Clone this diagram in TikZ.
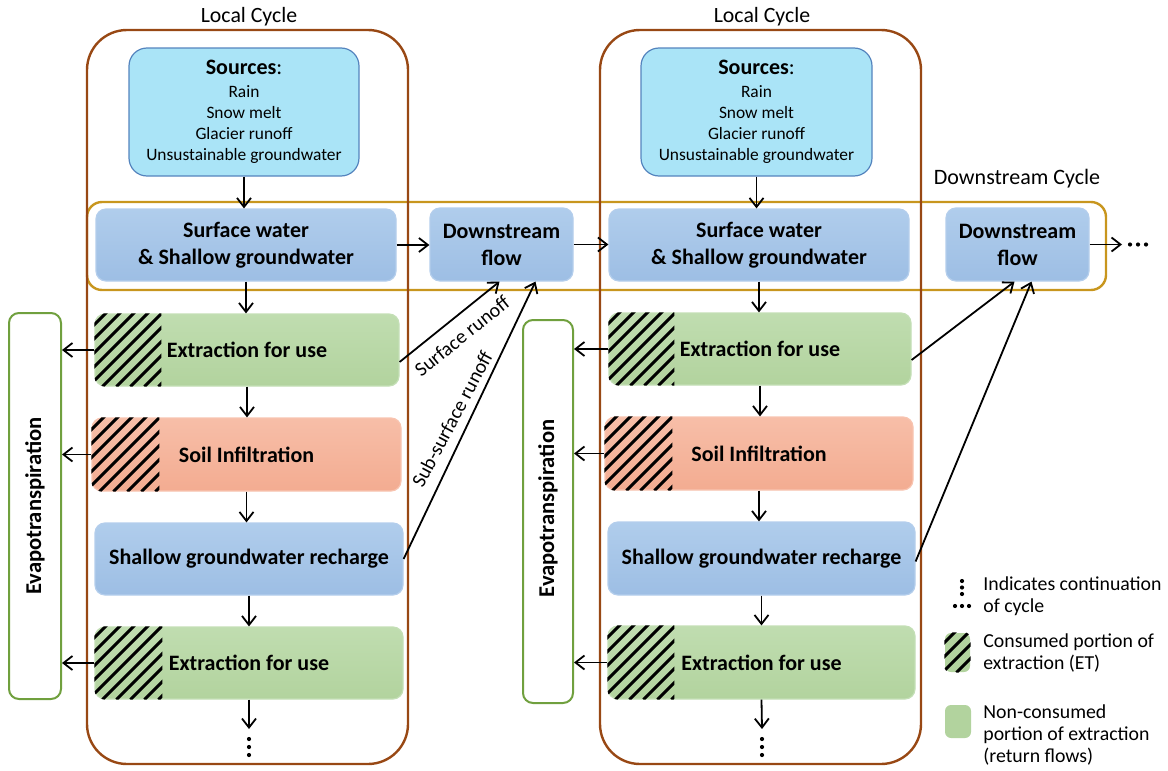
\documentclass[tikz,border=0pt]{standalone}
\usepackage{fontspec}
\setmainfont{Carlito}
\usetikzlibrary{arrows.meta,calc}
\definecolor{brownc}{RGB}{152,72,20}
\definecolor{goldc}{RGB}{200,150,30}
\definecolor{evapc}{RGB}{112,160,62}
\definecolor{srcF}{RGB}{170,228,247}
\definecolor{srcD}{RGB}{84,132,190}
\definecolor{blueT}{RGB}{176,205,236}
\definecolor{blueB}{RGB}{157,190,228}
\definecolor{blueD}{RGB}{180,206,236}
\definecolor{greenT}{RGB}{192,221,176}
\definecolor{greenB}{RGB}{178,211,158}
\definecolor{greenD}{RGB}{196,223,182}
\definecolor{soilT}{RGB}{247,190,168}
\definecolor{soilB}{RGB}{243,172,145}
\definecolor{soilD}{RGB}{248,196,176}
\newcommand\hatchit[2]{%
  \begin{scope}
    \clip[rounded corners=5pt] (#1.south west) rectangle (#1.north east);
    \clip (#1.south west) rectangle ([xshift=#2]#1.north west);
    \foreach \k in {0,...,14}{\draw[line width=1.5pt] ([xshift=\k*7pt-45pt]#1.south west) -- ++(120,-120);}
  \end{scope}}
\begin{document}
\begin{tikzpicture}[x=0.5pt,y=-0.5pt,
  box/.style={rounded corners=5pt, inner sep=0pt, align=center, line width=0.6pt,
    font=\bfseries\fontsize{11}{13.5}\selectfont},
  bluebox/.style={box, top color=blueT, bottom color=blueB, draw=blueD},
  greenbox/.style={box, top color=greenT, bottom color=greenB, draw=greenD},
  soilbox/.style={box, top color=soilT, bottom color=soilB, draw=soilD},
  srcbox/.style={rounded corners=9pt, inner sep=0pt, align=center, fill=srcF, draw=srcD,
    line width=0.6pt, font=\fontsize{8.7}{10.5}\selectfont},
  evapbox/.style={rounded corners=5pt, draw=evapc, fill=white, line width=1pt, inner sep=0pt},
  evaptxt/.style={rotate=90, font=\bfseries\fontsize{11.3}{13}\selectfont},
  arr/.style={line width=0.9pt, -{Straight Barb[length=4.5pt,width=7pt]}},
  lbl/.style={font=\fontsize{10.9}{12}\selectfont},
  runlbl/.style={font=\fontsize{10}{12}\selectfont, inner sep=1pt},
  legtxt/.style={font=\fontsize{9.9}{11}\selectfont, align=left, anchor=west, inner sep=0pt},
  dot/.style={circle, fill=black, inner sep=0pt, minimum size=2.1pt}
]
\useasboundingbox (0,0) rectangle (1168,771);

% cycle frames
\draw[goldc, line width=1.2pt, rounded corners=7.5pt] (87,202) rectangle (1106,290);
\draw[brownc, line width=1.2pt, rounded corners=20pt] (87,30) rectangle (408,764);
\draw[brownc, line width=1.2pt, rounded corners=20pt] (600,30) rectangle (921,764);
\node[lbl] (lc1) at (249,17) {Local Cycle};
\node[lbl] (lc2) at (762,17) {Local Cycle};
\node[font=\fontsize{11}{12}\selectfont] (dc) at (1017,179) {Downstream Cycle};

% evapotranspiration boxes
\node[evapbox, minimum width=26pt, minimum height=193pt] (ev1) at (35,506) {};
\node[evaptxt] (ev1t) at (ev1) {Evapotranspiration};
\node[evapbox, minimum width=25pt, minimum height=191.5pt] (ev2) at (548,511.5) {};
\node[evaptxt] (ev2t) at ([yshift=1.5pt]ev2.center) {Evapotranspiration};

% left column
\node[srcbox, minimum width=115pt, minimum height=64pt] (src1) at (244,112)
  {{\fontsize{11}{12}\selectfont\textbf{Sources}:}\\[1pt] Rain\\Snow melt\\Glacier runoff\\Unsustainable groundwater};
\node[bluebox, minimum width=150pt, minimum height=36pt] (sw1) at (246,245) {Surface water\\\& Shallow groundwater};
\node[greenbox, minimum width=152pt, minimum height=36pt] (ex1) at (247,350) {Extraction for use};
\node[soilbox, minimum width=154.5pt, minimum height=36.5pt] (so1) at (246.5,454.5) {Soil Infiltration};
\node[bluebox, minimum width=154pt, minimum height=36pt] (sh1) at (249,559) {Shallow groundwater recharge};
\node[greenbox, minimum width=154pt, minimum height=36pt] (ey1) at (249,663) {Extraction for use};
\hatchit{ex1}{33.5pt}
\hatchit{so1}{34pt}
\hatchit{ey1}{34pt}
\node[bluebox, minimum width=71.5pt, minimum height=36.5pt] (ds1) at (501.5,244.5) {Downstream\\flow};

% right column
\node[srcbox, minimum width=115.5pt, minimum height=64pt] (src2) at (756.5,112)
  {{\fontsize{11}{12}\selectfont\textbf{Sources}:}\\[1pt] Rain\\Snow melt\\Glacier runoff\\Unsustainable groundwater};
\node[bluebox, minimum width=150pt, minimum height=36pt] (sw2) at (759,245) {Surface water\\\& Shallow groundwater};
\node[greenbox, minimum width=151pt, minimum height=36pt] (ex2) at (760,349) {Extraction for use};
\node[soilbox, minimum width=154pt, minimum height=36.5pt] (so2) at (759,453.5) {Soil Infiltration};
\node[bluebox, minimum width=153.5pt, minimum height=36.5pt] (sh2) at (761.5,558.5) {Shallow groundwater recharge};
\node[greenbox, minimum width=153.5pt, minimum height=36.5pt] (ey2) at (761.5,662.5) {Extraction for use};
\hatchit{ex2}{33pt}
\hatchit{so2}{34pt}
\hatchit{ey2}{33.5pt}
\node[bluebox, minimum width=71.5pt, minimum height=36.5pt] (ds2) at (1017.5,244.5) {Downstream\\flow};

% vertical flows
\draw[arr] (src1.south) -- (src1.south |- sw1.north);
\draw[arr] (sw1.south) -- (sw1.south |- ex1.north);
\draw[arr] (ex1.south) -- (ex1.south |- so1.north);
\draw[arr] (so1.south) -- (so1.south |- sh1.north);
\draw[arr] (sh1.south) -- (sh1.south |- ey1.north);
\coordinate (end1) at (249,729);
\draw[arr] (ey1.south) -- (end1);
\draw[arr] (src2.south) -- (src2.south |- sw2.north);
\draw[arr] (sw2.south) -- (sw2.south |- ex2.north);
\draw[arr] (ex2.south) -- (ex2.south |- so2.north);
\draw[arr] (so2.south) -- (so2.south |- sh2.north);
\draw[arr] (sh2.south) -- (sh2.south |- ey2.north);
\coordinate (end2) at (762,729);
\draw[arr] (ey2.south) -- (end2);

% horizontal flows
\draw[arr] (sw1.east) -- (sw1.east -| ds1.west);
\draw[arr] (ds1.east) -- (ds1.east -| sw2.west);
\coordinate (end3) at (1122,244.5);
\draw[arr] (ds2.east) -- (end3);

% evapotranspiration arrows
\draw[arr] (ex1.west) -- (ex1.west -| ev1.east);
\draw[arr] (so1.west) -- (so1.west -| ev1.east);
\draw[arr] (ey1.west) -- (ey1.west -| ev1.east);
\draw[arr] (ex2.west) -- (ex2.west -| ev2.east);
\draw[arr] (so2.west) -- (so2.west -| ev2.east);
\draw[arr] (ey2.west) -- (ey2.west -| ev2.east);

% runoff
\draw[arr] ([yshift=-6pt]ex1.east) -- ([xshift=-1pt]ds1.south);
\draw[arr] (sh1.east) -- ([xshift=17pt]ds1.south);
\node[runlbl, rotate=38.7] (sr) at (462,336) {Surface runoff};
\node[runlbl, rotate=62] (ssr) at (452,419) {Sub-surface runoff};
\draw[arr] ([yshift=-5.5pt]ex2.east) -- ([xshift=-1.5pt]ds2.south);
\draw[arr] ([yshift=-1.5pt]sh2.east) -- ([xshift=7pt]ds2.south);

% continuation dots
\foreach \yy [count=\i] in {739,747,755}{
  \node[dot] (va\i) at (249,\yy) {};
  \node[dot] (vb\i) at (762,\yy) {};
}
\foreach \xx [count=\i] in {1130,1138,1146}{\node[dot] (hd\i) at (\xx,244.5) {};}

% legend
\foreach \yy [count=\i] in {581,587.5,594}{\node[dot] (lv\i) at (962,\yy) {};}
\foreach \xx [count=\i] in {955,962,969}{\node[dot] (lh\i) at (\xx,606) {};}
\node[legtxt] (lt1) at (983,596) {Indicates continuation\\of cycle};
\node[box, fill=greenB, rounded corners=3pt, minimum width=12.5pt, minimum height=19.5pt] (lgh) at (957.5,652.5) {};
\begin{scope}
  \clip[rounded corners=3pt] (lgh.south west) rectangle (lgh.north east);
  \foreach \k in {0,...,8}{\draw[line width=1.5pt] ([xshift=\k*7pt-22pt]lgh.south west) -- ++(60,-60);}
\end{scope}
\node[legtxt] (lt2) at (983,653) {Consumed portion of\\extraction (ET)};
\node[box, fill=greenB, rounded corners=3pt, minimum width=13pt, minimum height=16.5pt] (lgg) at (958,721.5) {};
\node[legtxt] (lt3) at (983,735) {Non-consumed\\portion of extraction\\(return flows)};
\end{tikzpicture}
\end{document}
